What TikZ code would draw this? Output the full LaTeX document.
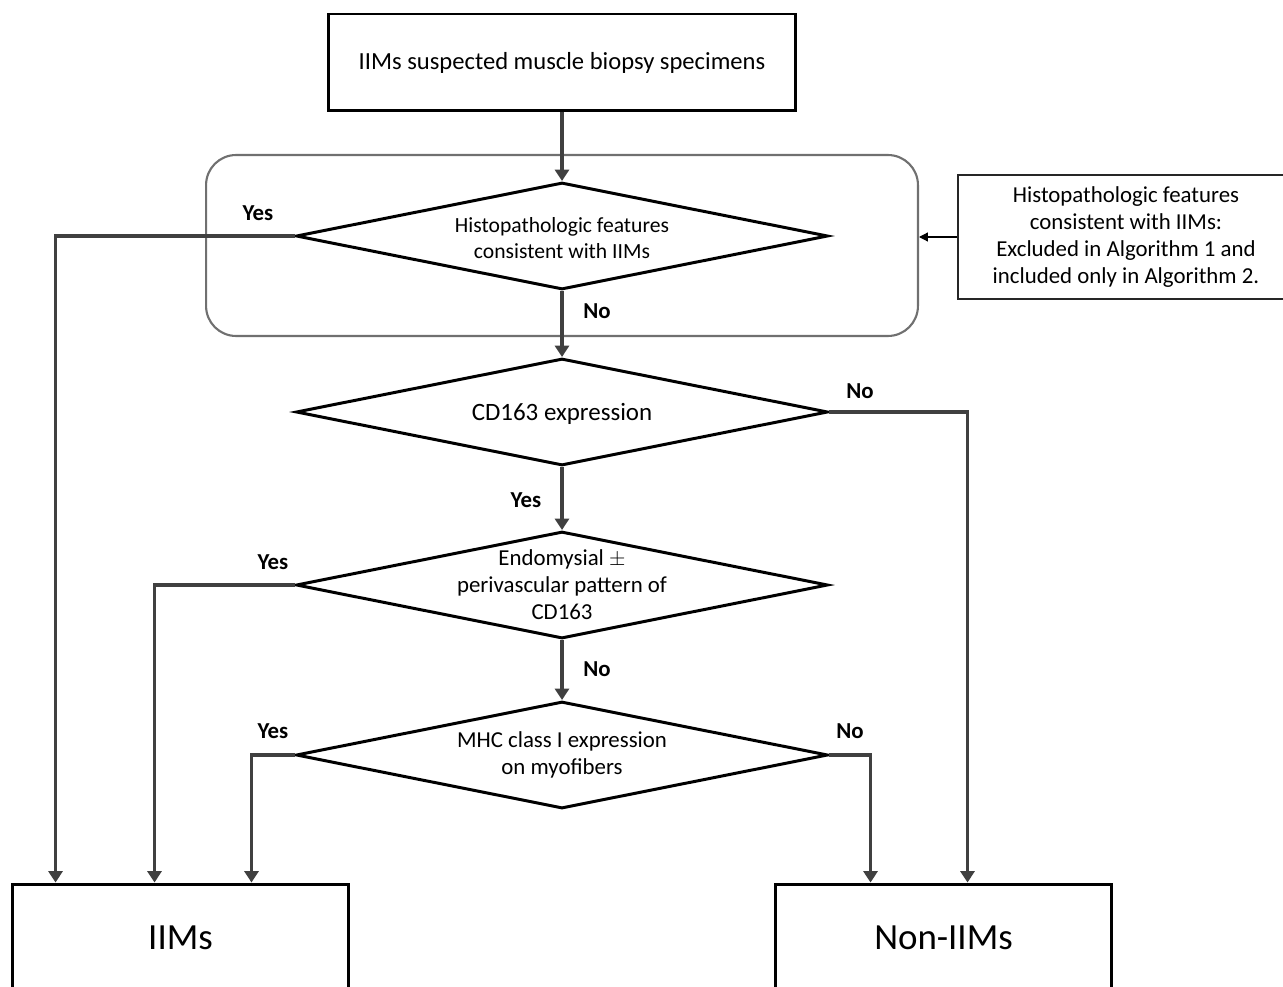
\documentclass[tikz,border=0pt]{standalone}
\usepackage{fontspec}
\setmainfont{Carlito}
\usetikzlibrary{positioning}
\usetikzlibrary{shapes.geometric, arrows.meta}
\definecolor{linegray}{HTML}{404040}
\definecolor{framegray}{HTML}{707070}

\begin{document}
\begin{tikzpicture}[x=0.02cm, y=-0.02cm,
			box/.style={
				rectangle,
				draw=black,
				line width=1.7pt,
				minimum width=9.36cm,
				minimum height=1.94cm,
				font=\fontsize{14}{17}\selectfont
			},
			endbox/.style={
				rectangle,
				draw=black,
				line width=1.7pt,
				minimum width=6.74cm,
				minimum height=2.16cm,
				font=\fontsize{21}{25}\selectfont
			},
			notebox/.style={
				rectangle,
				draw=black!85,
				line width=1.2pt,
				minimum width=6.72cm,
				minimum height=2.48cm,
				align=center,
				font=\fontsize{13}{15.3}\selectfont
			},
			group/.style={
				rectangle,
				draw=framegray,
				line width=1.2pt,
				rounded corners=0.6cm,
				minimum width=14.24cm,
				minimum height=3.62cm
			},
			decision/.style={
				diamond,
				draw=black,
				line width=1.7pt,
				fill=white,
				inner sep=0pt,
				minimum width=10.64cm,
				minimum height=2.14cm
			},
			dtext/.style={align=center, font=\fontsize{13}{15.3}\selectfont},
			lbl/.style={font=\fontsize{13}{15}\selectfont\bfseries},
			flow/.style={draw=linegray, line width=2.2pt, -{Triangle[length=6.5pt, width=8pt]}},
			notearrow/.style={draw=black, line width=0.7pt, -{Triangle[length=5pt, width=5pt]}}
			]
			\useasboundingbox (0,0) rectangle (1283,986);
			\clip (0,0) rectangle (1283,986);
			
			% Cadre autour de la premiere decision
			\node[group] (group) at (562,245.5) {};
			
			% Depart
			\node[box] (start) at (562,62.5) {IIMs suspected muscle biopsy specimens};
			
			% Decisions
			\node[decision, label={[dtext, font=\fontsize{12.3}{15}\selectfont, yshift=-0.04cm]center:{Histopathologic features\\consistent with IIMs}}] (histo) at (562,236) {};
			\node[decision, label={[dtext, font=\fontsize{14.2}{17}\selectfont, yshift=-0.04cm]center:{CD163 expression}}] (cd163) at (562,412) {};
			\node[decision, label={[dtext]center:{Endomysial $\pm$\\perivascular pattern of\\CD163}}] (pattern) at (562,585) {};
			\node[decision, label={[dtext]center:{MHC class I expression\\on myofibers}}] (mhc) at (562,755) {};
			
			% Note a droite
			\node[notebox] (note) at (1126,237) {Histopathologic features\\consistent with IIMs:\\Excluded in Algorithm 1 and\\included only in Algorithm 2.};
			
			% Resultats
			\node[endbox] (iims) at (180.5,938) {IIMs};
			\node[endbox] (noniims) at (943.5,938) {Non-IIMs};
			
			% Fleches principales
			\draw[flow] (start.south) -- (histo.north);
			\draw[flow] (histo.south) -- (cd163.north);
			\draw[flow] (cd163.south) -- (pattern.north);
			\draw[flow] (pattern.south) -- (mhc.north);
			
			% Branches vers IIMs
			\draw[flow] (histo.west) -| ([xshift=0.9cm]iims.north west);
			\draw[flow] (pattern.west) -| ([xshift=2.88cm]iims.north west);
			\draw[flow] (mhc.west) -| ([xshift=4.82cm]iims.north west);
			
			% Branches vers Non-IIMs
			\draw[flow] (cd163.east) -| ([xshift=3.88cm]noniims.north west);
			\draw[flow] (mhc.east) -| ([xshift=1.94cm]noniims.north west);
			
			% Fleche de la note
			\draw[notearrow] (note.west) -- (note.west -| group.east);
			
			% Etiquettes Yes / No
			\node[lbl] (yes1) at (258,213) {Yes};
			\node[lbl] (no1) at (597,311) {No};
			\node[lbl] (no2) at (860,391) {No};
			\node[lbl] (yes2) at (526,500) {Yes};
			\node[lbl] (yes3) at (273,562) {Yes};
			\node[lbl] (no3) at (597,669) {No};
			\node[lbl] (yes4) at (273,731) {Yes};
			\node[lbl] (no4) at (850,731) {No};
			
		\end{tikzpicture}
\end{document}
